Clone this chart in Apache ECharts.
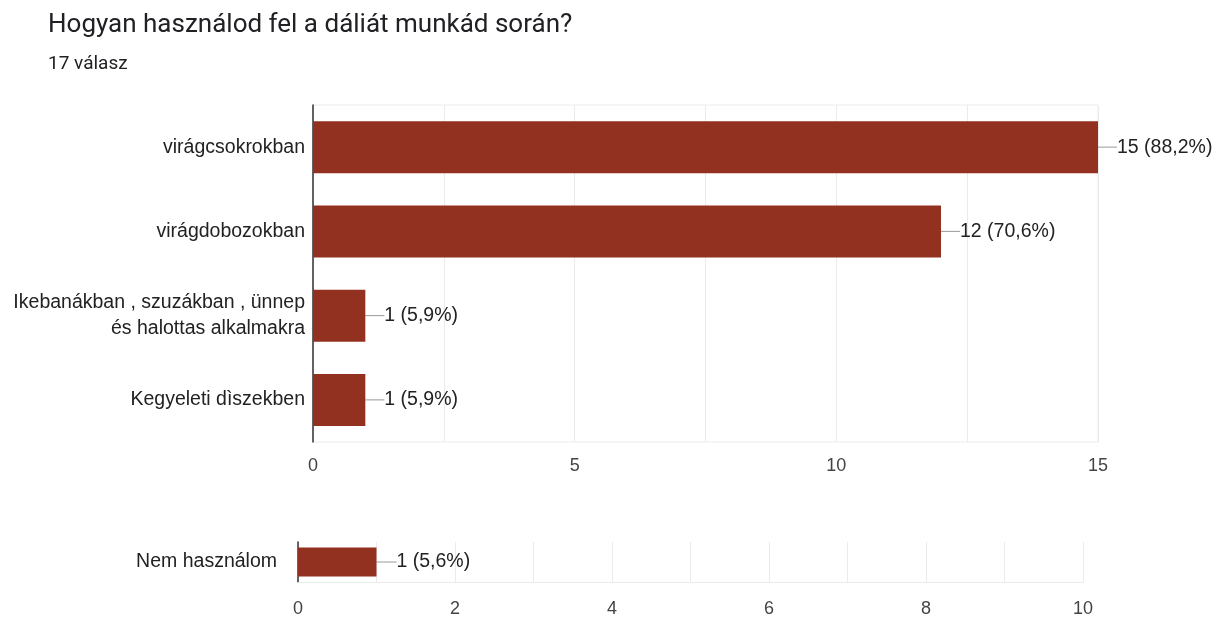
<!DOCTYPE html>
<html>
<head>
<meta charset="utf-8">
<title>Hogyan használod fel a dáliát munkád során?</title>
<script src="https://cdn.jsdelivr.net/npm/echarts@6/dist/echarts.min.js"></script>
<style>
  html, body { margin: 0; padding: 0; background: #fff; }
  #chart { width: 1223px; height: 618px; }
</style>
</head>
<body>
<div id="chart"></div>
<script>
// main question answers (top to bottom)
const categories = [
  'virágcsokrokban',
  'virágdobozokban',
  'Ikebanákban , szuzákban , ünnep\nés halottas alkalmakra',
  'Kegyeleti dìszekben'
]
const counts = [15, 12, 1, 1]
const percents = ['88,2%', '70,6%', '5,9%', '5,9%']

// separate "other" answer row
const otherCategories = ['Nem használom']
const otherCounts = [1]
const otherPercents = ['5,6%']

const barColor = '#933120'
const chartFont = '"Liberation Sans", Arial, sans-serif'

const chart = echarts.init(document.getElementById('chart'))

const makeLabel = (pcts) => ({
  show: true,
  position: 'right',
  distance: 0,
  color: '#222',
  fontSize: 19.5,
  fontFamily: chartFont,
  formatter: (p) => p.value + ' (' + pcts[p.dataIndex] + ')'
})

const option = {
  animation: false,
  title: [
    {
      text: 'Hogyan használod fel a dáliát munkád során?',
      left: 43,
      top: 7,
      textStyle: { fontFamily: 'Roboto', fontWeight: 'normal', fontSize: 26, color: '#202124' }
    },
    {
      text: '17 válasz',
      left: 43,
      top: 50,
      textStyle: { fontFamily: 'Roboto', fontWeight: 'normal', fontSize: 19, color: '#202124' }
    }
  ],
  grid: [
    { left: 313, right: 125, top: 105, height: 337, show: true, borderColor: '#ebebeb', borderWidth: 1 },
    { left: 298, right: 140, top: 542, height: 45 }
  ],
  xAxis: [
    {
      gridIndex: 0,
      type: 'value',
      min: 0,
      max: 15,
      interval: 5,
      axisLine: { show: false },
      axisTick: { show: false },
      axisLabel: { color: '#444', fontSize: 18, fontFamily: chartFont, margin: 15 },
      splitLine: { lineStyle: { color: '#ebebeb' } },
      minorTick: { show: false, splitNumber: 2 },
      minorSplitLine: { show: true, lineStyle: { color: '#ebebeb' } }
    },
    {
      gridIndex: 1,
      type: 'value',
      min: 0,
      max: 10,
      interval: 2,
      axisLine: { show: true, lineStyle: { color: '#ebebeb' } },
      axisTick: { show: false },
      axisLabel: { color: '#444', fontSize: 18, fontFamily: chartFont, margin: 18 },
      splitLine: { lineStyle: { color: '#ebebeb' } },
      minorTick: { show: false, splitNumber: 2 },
      minorSplitLine: { show: true, lineStyle: { color: '#ebebeb' } }
    }
  ],
  yAxis: [
    {
      gridIndex: 0,
      type: 'category',
      inverse: true,
      data: categories,
      axisLine: { show: true, lineStyle: { color: '#333', width: 1.5 } },
      axisTick: { show: false },
      axisLabel: { color: '#222', fontSize: 19.5, fontFamily: chartFont, margin: 8, lineHeight: 26, align: 'right' }
    },
    {
      gridIndex: 1,
      type: 'category',
      inverse: true,
      data: otherCategories,
      axisLine: { show: true, lineStyle: { color: '#333', width: 1.5 } },
      axisTick: { show: false },
      axisLabel: { color: '#222', fontSize: 19.5, fontFamily: chartFont, margin: 21 }
    }
  ],
  series: [
    {
      type: 'bar',
      xAxisIndex: 0,
      yAxisIndex: 0,
      data: counts,
      barWidth: 52,
      itemStyle: { color: barColor },
      label: makeLabel(percents),
      labelLayout: { dx: 19 },
      labelLine: { show: true, lineStyle: { color: '#999', width: 1 } }
    },
    {
      type: 'bar',
      xAxisIndex: 1,
      yAxisIndex: 1,
      data: otherCounts,
      barWidth: 29,
      itemStyle: { color: barColor },
      label: makeLabel(otherPercents),
      labelLayout: { dx: 20 },
      labelLine: { show: true, lineStyle: { color: '#999', width: 1 } }
    }
  ]
}

chart.setOption(option)
</script>
</body>
</html>
